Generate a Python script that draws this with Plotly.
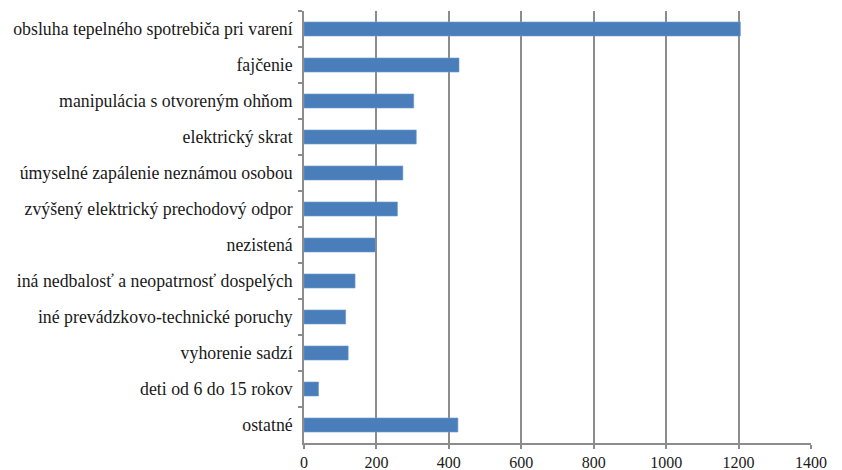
import plotly.graph_objects as go

categories = [
    "obsluha tepelného spotrebiča pri varení",
    "fajčenie",
    "manipulácia s otvoreným ohňom",
    "elektrický skrat",
    "úmyselné zapálenie neznámou osobou",
    "zvýšený elektrický prechodový odpor",
    "nezistená",
    "iná nedbalosť a neopatrnosť dospelých",
    "iné prevádzkovo-technické poruchy",
    "vyhorenie sadzí",
    "deti od 6 do 15 rokov",
    "ostatné",
]
values = [1205, 428, 303, 310, 273, 258, 197, 141, 115, 122, 40, 425]
x_ticks = [0, 200, 400, 600, 800, 1000, 1200, 1400]

FONT = "Liberation Serif"
GRID = "#8c8c8c"
TXT = "#1a1a1a"

fig = go.Figure(
    go.Bar(
        y=categories,
        x=values,
        orientation="h",
        marker=dict(color="#4a7ebb", line=dict(color="#6e98cc", width=0.6)),
    )
)

# page body has an 8px margin, so the figure is sized to fit inside it
fig.update_layout(
    width=834,
    height=462,
    margin=dict(l=296, r=31, t=3, b=27, autoexpand=False),
    paper_bgcolor="white",
    plot_bgcolor="white",
    bargap=0.61,
    showlegend=False,
    font=dict(family=FONT, size=16, color=TXT),
)

fig.update_xaxes(
    range=[0, 1400],
    tickvals=x_ticks,
    ticktext=[str(v) for v in x_ticks],
    showgrid=True,
    gridcolor=GRID,
    gridwidth=1.5,
    showline=True,
    linecolor=GRID,
    linewidth=1.5,
    ticks="outside",
    ticklen=4,
    tickcolor=GRID,
    tickwidth=1.5,
    zeroline=False,
    automargin=False,
    tickfont=dict(family=FONT, size=16, color=TXT),
)

fig.update_yaxes(
    autorange="reversed",
    showgrid=False,
    showline=True,
    linecolor=GRID,
    linewidth=1.5,
    ticks="outside",
    tickson="boundaries",
    ticklen=4,
    tickcolor=GRID,
    tickwidth=1.5,
    ticklabelstandoff=6,
    automargin=False,
    tickfont=dict(family=FONT, size=17.8, color=TXT),
)

fig.write_html("out.html")
